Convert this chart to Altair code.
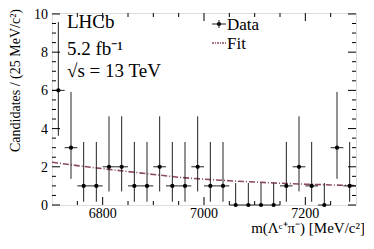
import altair as alt
import pandas as pd

# ---- data ----
bin_centers = [6712.5 + 25 * i for i in range(24)]
counts = [6, 3, 1, 1, 2, 2, 1, 1, 2, 1, 1, 2, 1, 1, 0, 0, 0, 0, 1, 2, 1, 0, 3, 1]
err_lo = [3.62, 1.37, 0.17, 0.17, 0.71, 0.71, 0.17, 0.17, 0.71, 0.17, 0.17, 0.71,
          0.17, 0.17, 0.0, 0.0, 0.0, 0.0, 0.17, 0.71, 0.17, 0.0, 1.37, 0.17]
err_hi = [9.58, 5.92, 3.30, 3.30, 4.64, 4.64, 3.30, 3.30, 4.64, 3.30, 3.30, 4.64,
          3.30, 3.30, 1.15, 1.15, 1.15, 1.15, 3.30, 4.64, 3.30, 1.15, 5.92, 3.30]

fit_x = [6700, 6750, 6800, 6850, 6900, 6950, 7000, 7050, 7100, 7150, 7200, 7250, 7300]
fit_y = [2.24, 2.06, 1.90, 1.75, 1.60, 1.45, 1.35, 1.27, 1.20, 1.14, 1.09, 1.05, 1.02]

x_major = [6800, 7000, 7200]
x_minor = [6750, 6850, 6900, 6950, 7050, 7100, 7150, 7250]
y_major = [0, 2, 4, 6, 8, 10]
y_minor = [0.5, 1, 1.5, 2.5, 3, 3.5, 4.5, 5, 5.5, 6.5, 7, 7.5, 8.5, 9, 9.5]
x_labels = ["6800", "7000", "7200"]
y_labels = ["0", "2", "4", "6", "8", "10"]

X_DOM = [6700, 7300]
Y_DOM = [0, 10.05]
W, H = 304, 192
TOP = 5
FONT = "Liberation Serif"
FITCOL = "#8c4a5a"

data = pd.DataFrame({"x": bin_centers, "n": counts, "lo": err_lo, "hi": err_hi})
data["xl"] = data["x"] - 12.5
data["xh"] = data["x"] + 12.5
fit = pd.DataFrame({"x": fit_x, "y": fit_y})

xs = alt.Scale(domain=X_DOM, nice=False, zero=False)
ys = alt.Scale(domain=Y_DOM, nice=False, zero=False)

def X(f):
    return alt.X(f, scale=xs, axis=None)

def Y(f):
    return alt.Y(f, scale=ys, axis=None)

base = alt.Chart(data)

fit_line = alt.Chart(fit).mark_line(color=FITCOL, strokeDash=[6, 2, 1, 2], strokeWidth=1.6).encode(
    x=X("x:Q"), y=Y("y:Q"))

vbars = base.mark_rule(color="#222", strokeWidth=1).encode(x=X("x:Q"), y=Y("lo:Q"), y2="hi:Q")
hbars = base.mark_rule(color="#222", strokeWidth=1).encode(x=X("xl:Q"), x2="xh:Q", y=Y("n:Q"))
pts = base.mark_circle(color="black", opacity=1, size=18).encode(x=X("x:Q"), y=Y("n:Q"))

def yticks(vals, length):
    d = alt.Chart(pd.DataFrame({"v": vals}))
    left = d.mark_rule(color="black", strokeWidth=1).encode(
        y=Y("v:Q"), x=alt.value(0), x2=alt.value(length))
    right = d.mark_rule(color="black", strokeWidth=1).encode(
        y=Y("v:Q"), x=alt.value(W - length), x2=alt.value(W))
    return [left, right]

def xticks(vals, length):
    d = alt.Chart(pd.DataFrame({"v": vals}))
    bottom = d.mark_rule(color="black", strokeWidth=1).encode(
        x=X("v:Q"), y=alt.value(H), y2=alt.value(H - length))
    top = d.mark_rule(color="black", strokeWidth=1).encode(
        x=X("v:Q"), y=alt.value(0), y2=alt.value(length))
    return [bottom, top]

tick_layers = yticks(y_major, 8) + yticks(y_minor, 4) + xticks(x_major, 8) + xticks(x_minor, 4)

ylab = alt.Chart(pd.DataFrame({"v": y_major, "t": y_labels})).mark_text(
    font=FONT, fontSize=14, align="right", baseline="middle", color="black", dx=-4, dy=1).encode(
    y=Y("v:Q"), x=alt.value(0), text="t:N")
xlab = alt.Chart(pd.DataFrame({"v": x_major, "t": x_labels})).mark_text(
    font=FONT, fontSize=14, align="center", baseline="alphabetic", color="black").encode(
    x=X("v:Q"), y=alt.value(H + 13), text="t:N")

dummy = alt.Chart(pd.DataFrame({"a": [0]}))

def txt(s, x, y, size, align="left", angle=0, style="normal", baseline="alphabetic"):
    return dummy.mark_text(text=s, font=FONT, fontSize=size, align=align, baseline=baseline,
                           angle=angle, color="black", fontStyle=style).encode(
        x=alt.value(x), y=alt.value(y))

o = 8 + TOP  # page offset of the plot top
texts = [
    txt("LHCb", 15, 28 - o, 19),
    txt("5.2 fb\u207b\u00b9", 15, 55 - o, 19),
    txt("\u221as = 13 TeV", 15, 77 - o, 19),
    txt("Data", 175, 30 - o, 17),
    txt("Fit", 175, 49 - o, 17),
    txt("m(\u039b\u1d9c\u207a\u03c0\u207b) [MeV/c\u00b2]", 313, 233 - o, 15, align="right"),
    txt("Candidates / (25 MeV/c\u00b2)", -36, 9 - o, 14, align="right", angle=270, baseline="middle"),
]

leg = [
    dummy.mark_rule(color="#222", strokeWidth=1).encode(x=alt.value(160), x2=alt.value(174), y=alt.value(24 - o)),
    dummy.mark_circle(color="black", opacity=1, size=18).encode(x=alt.value(167), y=alt.value(24 - o)),
    dummy.mark_rule(color="#222", strokeWidth=1).encode(x=alt.value(167), y=alt.value(20 - o), y2=alt.value(28 - o)),
    dummy.mark_rule(color=FITCOL, strokeWidth=1.6, strokeDash=[2, 1, 1, 1]).encode(
        x=alt.value(160), x2=alt.value(174), y=alt.value(43 - o)),
]

chart = alt.layer(fit_line, vbars, hbars, pts, *tick_layers, ylab, xlab, *leg, *texts).properties(
    width=W, height=H,
    autosize=alt.AutoSizeParams(type="none"),
    padding={"left": 44, "top": TOP, "right": 8, "bottom": 32},
).configure_view(stroke="black", strokeWidth=1.2).configure(background="white")

chart.save("out.html", embed_options={"renderer": "svg", "actions": False})
